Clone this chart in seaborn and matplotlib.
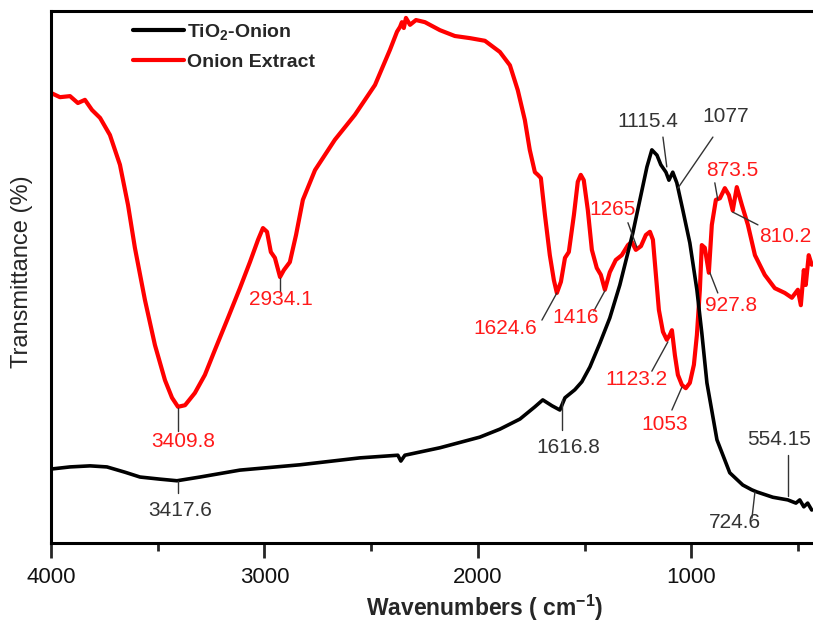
import matplotlib
matplotlib.use("Agg")
import matplotlib.pyplot as plt
import seaborn as sns
import pandas as pd
from matplotlib.lines import Line2D

# ---------------- data ----------------
red_wn = [4000, 3958, 3911, 3874, 3841, 3808, 3770, 3724, 3677, 3639, 3607, 3560, 3513, 3466,
          3433, 3405, 3372, 3326, 3279, 3232, 3171, 3115, 3068, 3030, 3007, 2988, 2970, 2951,
          2927, 2909, 2881, 2852, 2820, 2763, 2670, 2576, 2482, 2412, 2379, 2365, 2356, 2347,
          2337, 2318, 2290, 2248, 2178, 2108, 2037, 1967, 1897, 1850, 1813, 1780, 1757, 1733,
          1719, 1705, 1686, 1663, 1644, 1630, 1611, 1592, 1574, 1550, 1532, 1518, 1504, 1485,
          1466, 1443, 1424, 1405, 1382, 1354, 1326, 1297, 1279, 1260, 1236, 1213, 1194, 1180,
          1166, 1152, 1133, 1115, 1101, 1091, 1077, 1063, 1044, 1026, 1007, 988, 974, 960,
          951, 937, 918, 904, 885, 866, 843, 824, 806, 787, 763, 735, 702, 656, 609, 562,
          529, 501, 487, 473, 464, 450, 436]
red_T = [84.6, 83.8, 84.0, 82.7, 83.3, 81.4, 79.9, 76.7, 71.1, 63.5, 55.5, 45.7, 37.2, 30.6,
         27.3, 25.6, 25.9, 28.2, 31.6, 36.3, 42.3, 47.9, 52.8, 57.0, 59.2, 58.5, 54.7, 53.6,
         50.0, 51.3, 52.8, 57.9, 64.5, 70.1, 75.8, 80.5, 86.1, 92.7, 96.1, 97.0, 97.9, 96.8,
         98.7, 97.4, 98.3, 97.9, 96.4, 95.3, 94.9, 94.4, 92.3, 89.8, 85.1, 79.5, 73.9, 69.7,
         69.2, 68.6, 61.7, 54.1, 49.4, 47.0, 49.1, 53.6, 54.7, 61.7, 67.9, 69.2, 68.2, 62.6,
         55.1, 51.7, 50.4, 47.6, 50.9, 53.2, 54.1, 56.0, 56.6, 55.1, 55.8, 57.9, 58.5, 57.0,
         50.4, 43.8, 39.7, 38.2, 39.1, 40.0, 35.3, 31.6, 29.7, 29.1, 30.1, 33.5, 39.1, 47.6,
         56.0, 55.5, 50.8, 59.8, 64.5, 64.8, 66.7, 65.4, 62.5, 66.9, 63.5, 59.8, 54.1, 50.4,
         47.9, 47.0, 46.1, 47.6, 44.7, 51.3, 48.5, 54.1, 52.3]

blk_wn = [4000, 3911, 3817, 3738, 3653, 3583, 3489, 3410, 3302, 3115, 2834, 2553, 2375, 2361,
          2342, 2178, 1991, 1897, 1803, 1733, 1696, 1653, 1616, 1592, 1546, 1513, 1475, 1428,
          1382, 1335, 1302, 1274, 1241, 1208, 1185, 1161, 1143, 1119, 1105, 1087, 1068, 1040,
          1007, 974, 951, 927, 880, 820, 759, 717, 693, 618, 548, 510, 492, 473, 455, 436]
blk_T = [13.9, 14.3, 14.5, 14.3, 13.3, 12.4, 12.0, 11.7, 12.4, 13.7, 14.7, 16.0, 16.5, 15.4,
         16.5, 17.9, 19.9, 21.4, 23.3, 25.6, 26.9, 25.8, 25.0, 27.3, 28.8, 30.3, 33.1, 37.6,
         42.3, 48.5, 53.8, 58.3, 64.5, 70.7, 73.9, 72.9, 71.1, 69.7, 68.2, 69.7, 67.7, 62.6,
         56.4, 47.6, 39.5, 30.1, 19.4, 13.2, 10.9, 10.0, 9.6, 8.6, 8.1, 7.5, 8.1, 6.8, 7.5, 6.2]

series_names = ["TiO$_2$-Onion", "Onion Extract"]
series_colors = ["#000000", "#ff0000"]

xticks_major = [4000, 3000, 2000, 1000]
xticks_minor = [3500, 2500, 1500, 500]

# peak labels: (text, text position (wn, T), leader from (wn,T), leader to (wn,T))
red_labels = [
    ("3409.8", (3382, 19.0), (3405, 25.4), (3405, 21.1)),
    ("2934.1", (2923, 45.7), (2927, 49.8), (2927, 47.2)),
    ("1624.6", (1873, 40.4), (1630, 47.0), (1700, 41.9)),
    ("1416",   (1541, 42.3), (1405, 47.4), (1457, 43.6)),
    ("1265",   (1368, 62.6), (1297, 60.2), (1255, 55.6)),
    ("1123.2", (1255, 30.8), (1185, 32.3), (1110, 37.8)),
    ("1053",   (1124, 22.2), (1091, 25.0), (1044, 29.3)),
    ("927.8",  (815, 44.7), (913, 50.8), (876, 47.0)),
    ("873.5",  (806, 70.1), (876, 64.5), (890, 67.7)),
    ("810.2",  (562, 57.7), (806, 62.2), (688, 59.8)),
]
blk_labels = [
    ("3417.6", (3396, 6.2), (3405, 11.7), (3405, 9.4)),
    ("1616.8", (1578, 17.9), (1606, 26.9), (1606, 21.2)),
    ("1115.4", (1204, 79.3), (1133, 76.3), (1115, 70.7)),
    ("1077",   (838, 80.1), (899, 76.3), (1063, 66.7)),
    ("554.15", (590, 19.4), (548, 16.5), (548, 8.8)),
    ("724.6",  (796, 3.8), (702, 9.6), (716, 4.7)),
]

# ---------------- style ----------------
sns.set_style("ticks")
plt.rcParams["font.family"] = ["Liberation Sans", "DejaVu Sans"]
plt.rcParams["mathtext.fontset"] = "custom"
plt.rcParams["mathtext.rm"] = "Liberation Sans"
plt.rcParams["mathtext.bf"] = "Liberation Sans:bold"
plt.rcParams["mathtext.default"] = "bf"

fig = plt.figure(figsize=(8.13, 6.24), dpi=100)
ax = fig.add_axes([51 / 813, 1 - 543 / 624, 1 - 51 / 813, (543 - 11) / 624])

df_red = pd.DataFrame({"wn": red_wn, "T": red_T})
df_blk = pd.DataFrame({"wn": blk_wn, "T": blk_T})
sns.lineplot(data=df_red, x="wn", y="T", color=series_colors[1], lw=3.0, ax=ax, sort=False,
             solid_joinstyle="round", solid_capstyle="round")
sns.lineplot(data=df_blk, x="wn", y="T", color=series_colors[0], lw=2.6, ax=ax, sort=False,
             solid_joinstyle="round", solid_capstyle="round")

ax.set_xlim(4000, 430)
ax.set_ylim(0, 100)

ax.set_xticks(xticks_major)
ax.set_xticks(xticks_minor, minor=True)
ax.set_xticklabels([str(t) for t in xticks_major], fontsize=16, color="#111111")
ax.set_yticks([])
ax.tick_params(axis="x", which="major", direction="out", length=11, width=2, pad=6)
ax.tick_params(axis="x", which="minor", direction="out", length=6, width=2)

for s in ["left", "bottom", "top"]:
    ax.spines[s].set_linewidth(2.2)
    ax.spines[s].set_color("#000000")
ax.spines["right"].set_visible(False)

ax.set_xlabel("Wavenumbers ( cm$^{-1}$)", fontsize=16.5, fontweight="bold")
ax.xaxis.set_label_coords((485 - 51) / 762, (543 - 608) / 532)
ax.set_ylabel("Transmittance (%)", fontsize=17, fontweight="normal")
ax.yaxis.set_label_coords((22 - 51) / 762, (543 - 272) / 532)
ax.yaxis.label.set_va("center")
ax.xaxis.label.set_va("center")

for labels, col in ((red_labels, "#ff1a1a"), (blk_labels, "#333333")):
    for txt, tpos, p1, p2 in labels:
        ax.plot([p1[0], p2[0]], [p1[1], p2[1]], color="#333333", lw=1.0)
        ax.text(tpos[0], tpos[1], txt, color=col, fontsize=15, ha="center", va="center")

handles = [Line2D([], [], color=series_colors[0], lw=3.0),
           Line2D([], [], color=series_colors[1], lw=3.0)]
leg = ax.legend(handles, series_names, loc="upper left",
                bbox_to_anchor=((133 - 51) / 762, (543 - 22) / 532),
                frameon=False, borderpad=0, borderaxespad=0,
                handlelength=2.6, handletextpad=0.2, labelspacing=0.6,
                prop={"size": 14, "weight": "bold"})

fig.savefig("out.png", dpi=100)
